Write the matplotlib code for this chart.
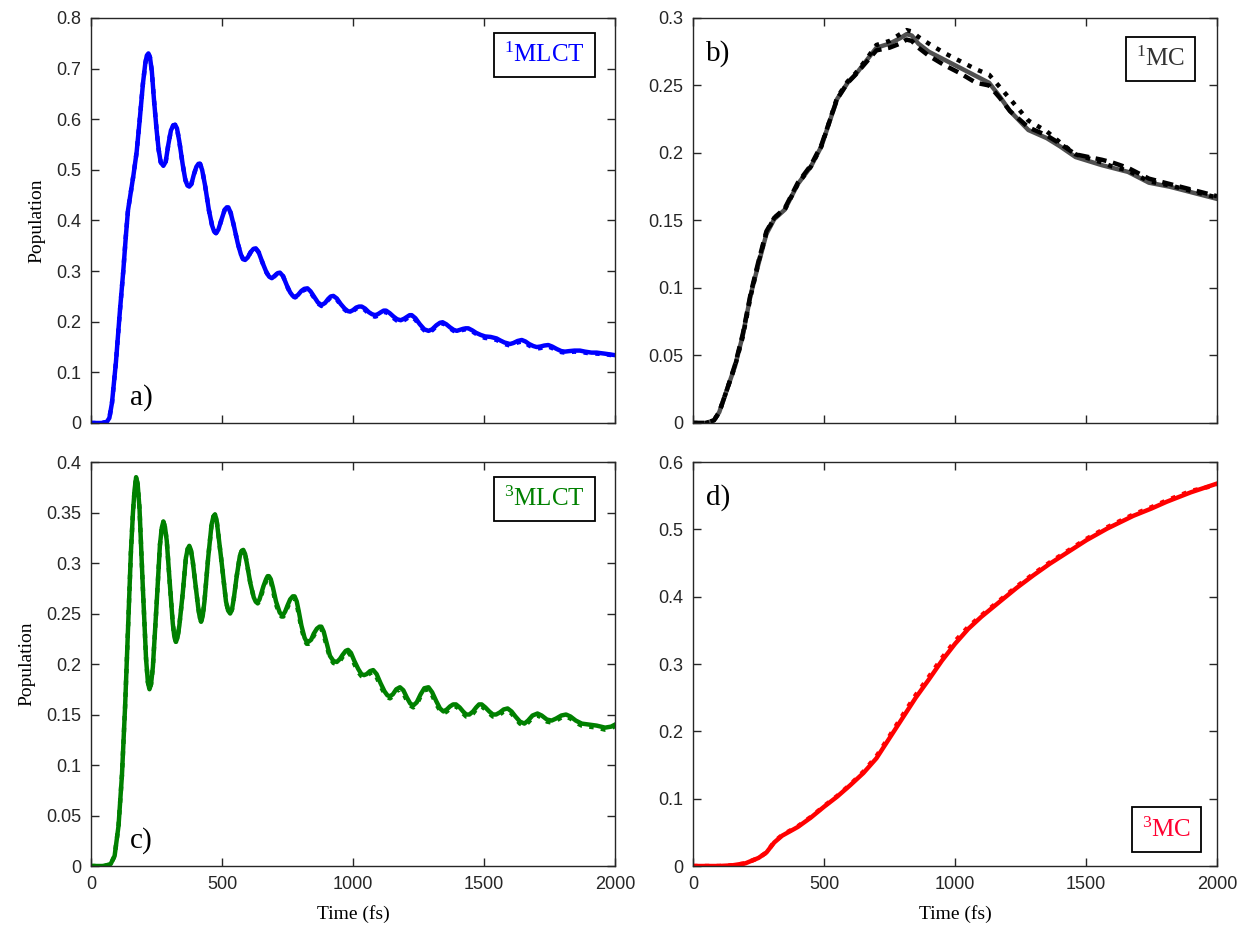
import numpy as np
import matplotlib
matplotlib.use('Agg')
from matplotlib import pyplot as plt
from matplotlib.ticker import FuncFormatter

plt.rcParams['font.family'] = ['Liberation Serif', 'DejaVu Serif']
plt.rcParams['mathtext.fontset'] = 'custom'
plt.rcParams['mathtext.rm'] = 'Liberation Serif'
plt.rcParams['mathtext.default'] = 'regular'

# a) 1MLCT, solid curve (time in fs, population)
t_a = [0, 40, 60, 70, 80, 95, 110, 123, 133, 141, 149, 162, 174, 186, 198, 207, 213, 219, 225, 232, 240,
       250, 258, 266, 276, 285, 295, 305, 314, 321, 328, 337, 350, 360, 368, 375, 383, 392, 402, 410, 416,
       424, 435, 450, 462, 470, 477, 486, 498, 510, 518, 524, 533, 545, 560, 572, 580, 588, 598, 610, 620,
       629, 640, 655, 670, 680, 690, 700, 712, 721, 733, 748, 760, 770, 779, 790, 803, 814, 826, 838, 852,
       866, 880, 893, 905, 915, 925, 938, 953, 968, 980, 989, 1000, 1012, 1023, 1033, 1046, 1060, 1072, 1084,
       1095, 1107, 1117, 1126, 1140, 1155, 1168, 1182, 1195, 1207, 1216, 1224, 1238, 1255, 1272, 1288, 1302,
       1318, 1332, 1342, 1356, 1370, 1384, 1396, 1408, 1420, 1430, 1440, 1455, 1470, 1487, 1504, 1525, 1548,
       1562, 1578, 1599, 1612, 1628, 1644, 1658, 1672, 1688, 1701, 1715, 1730, 1745, 1760, 1778, 1795, 1809,
       1825, 1845, 1866, 1885, 1910, 1930, 1960, 1985, 2000]
p_a = [0, 0, 0.002, 0.01, 0.04, 0.12, 0.22, 0.30, 0.37, 0.42, 0.447, 0.49, 0.535, 0.60, 0.67, 0.71, 0.726,
       0.73, 0.722, 0.695, 0.64, 0.58, 0.54, 0.515, 0.508, 0.516, 0.55, 0.578, 0.588, 0.589, 0.582, 0.556,
       0.51, 0.48, 0.469, 0.467, 0.472, 0.49, 0.506, 0.512, 0.512, 0.5, 0.47, 0.42, 0.39, 0.378, 0.375, 0.382,
       0.402, 0.421, 0.426, 0.426, 0.415, 0.39, 0.355, 0.333, 0.324, 0.322, 0.327, 0.338, 0.344, 0.345, 0.337,
       0.316, 0.297, 0.289, 0.286, 0.29, 0.296, 0.297, 0.29, 0.271, 0.258, 0.251, 0.249, 0.253, 0.261, 0.265,
       0.266, 0.26, 0.249, 0.238, 0.233, 0.237, 0.245, 0.25, 0.251, 0.246, 0.235, 0.226, 0.221, 0.220, 0.223,
       0.228, 0.23, 0.230, 0.226, 0.219, 0.215, 0.213, 0.215, 0.219, 0.222, 0.222, 0.217, 0.21, 0.205, 0.203,
       0.206, 0.21, 0.213, 0.213, 0.207, 0.195, 0.185, 0.182, 0.185, 0.193, 0.198, 0.199, 0.195, 0.189, 0.184,
       0.182, 0.184, 0.186, 0.187, 0.187, 0.183, 0.178, 0.174, 0.171, 0.17, 0.167, 0.163, 0.159, 0.156, 0.158,
       0.162, 0.164, 0.161, 0.156, 0.152, 0.150, 0.151, 0.153, 0.154, 0.151, 0.146, 0.142, 0.141, 0.142,
       0.143, 0.143, 0.141, 0.139, 0.139, 0.137, 0.135, 0.134]
# a) dotted curve: same as solid before 721 fs, then this tail (same time grid)
a_dot_from = 721
p_a_dot_tail = [0.297, 0.29, 0.270, 0.257, 0.250, 0.248, 0.252, 0.259, 0.263, 0.264, 0.258, 0.247, 0.236,
                0.231, 0.235, 0.243, 0.248, 0.249, 0.244, 0.233, 0.224, 0.219, 0.218, 0.221, 0.226, 0.228,
                0.228, 0.223, 0.216, 0.212, 0.210, 0.212, 0.216, 0.219, 0.219, 0.214, 0.207, 0.202, 0.200,
                0.203, 0.207, 0.210, 0.210, 0.204, 0.192, 0.183, 0.180, 0.183, 0.191, 0.196, 0.197, 0.193,
                0.187, 0.182, 0.180, 0.182, 0.184, 0.185, 0.185, 0.181, 0.176, 0.171, 0.168, 0.167, 0.164,
                0.160, 0.156, 0.153, 0.155, 0.159, 0.161, 0.158, 0.153, 0.149, 0.147, 0.148, 0.150, 0.151,
                0.148, 0.143, 0.140, 0.139, 0.140, 0.141, 0.140, 0.139, 0.137, 0.137, 0.136, 0.134, 0.133]

# b) 1MC, three curves
t_b = [0, 50, 80, 100, 130, 160, 190, 220, 250, 280, 310, 350, 400, 450, 490, 550, 590, 620, 660, 700, 750,
       790, 815, 835, 860, 900, 960, 1020, 1080, 1130, 1170, 1210, 1280, 1350, 1400, 1460, 1510, 1560, 1600,
       1660, 1740, 1820, 1900, 1960, 2000]
p_b_solid = [0, 0, 0.002, 0.008, 0.025, 0.042, 0.065, 0.095, 0.118, 0.140, 0.151, 0.158, 0.177, 0.19,
             0.205, 0.24, 0.252, 0.258, 0.268, 0.278, 0.281, 0.285, 0.288, 0.287, 0.281, 0.275, 0.269, 0.263,
             0.257, 0.252, 0.242, 0.231, 0.217, 0.211, 0.205, 0.197, 0.194, 0.191, 0.189, 0.186, 0.178,
             0.175, 0.171, 0.168, 0.166]
p_b_dash = [0, 0, 0.002, 0.008, 0.025, 0.043, 0.066, 0.096, 0.120, 0.142, 0.152, 0.159, 0.178, 0.191,
            0.206, 0.24, 0.252, 0.258, 0.267, 0.276, 0.278, 0.281, 0.284, 0.283, 0.278, 0.272, 0.265, 0.259,
            0.252, 0.250, 0.241, 0.231, 0.219, 0.213, 0.207, 0.199, 0.197, 0.195, 0.193, 0.189, 0.181, 0.177,
            0.173, 0.170, 0.168]
p_b_dot = [0, 0, 0.002, 0.008, 0.025, 0.042, 0.064, 0.094, 0.119, 0.141, 0.152, 0.158, 0.177, 0.190,
           0.205, 0.241, 0.253, 0.259, 0.269, 0.280, 0.283, 0.288, 0.291, 0.290, 0.286, 0.281, 0.274, 0.268,
           0.262, 0.258, 0.249, 0.240, 0.224, 0.216, 0.208, 0.199, 0.196, 0.193, 0.190, 0.187, 0.179, 0.176,
           0.172, 0.169, 0.167]

# c) 3MLCT, solid curve
t_c = [0, 50, 75, 90, 105, 118, 130, 142, 152, 160, 166, 172, 178, 185, 197, 210, 217, 223, 229, 236, 250,
       263, 270, 276, 282, 289, 300, 312, 318, 324, 330, 337, 350, 362, 369, 375, 381, 388, 398, 409, 415,
       420, 426, 433, 447, 460, 467, 473, 479, 486, 500, 515, 523, 531, 538, 545, 556, 568, 575, 581, 588,
       596, 608, 621, 628, 636, 643, 650, 658, 668, 674, 679, 686, 694, 706, 720, 727, 734, 741, 750, 760,
       770, 777, 785, 793, 803, 815, 823, 830, 840, 850, 862, 872, 879, 888, 898, 912, 925, 938, 950, 960,
       972, 981, 992, 1005, 1020, 1032, 1042, 1052, 1065, 1077, 1090, 1105, 1120, 1131, 1141, 1152, 1165,
       1179, 1192, 1205, 1218, 1230, 1243, 1258, 1272, 1288, 1302, 1318, 1332, 1345, 1358, 1370, 1382, 1393,
       1407, 1420, 1432, 1444, 1458, 1470, 1481, 1491, 1505, 1520, 1534, 1546, 1560, 1575, 1590, 1605, 1620,
       1637, 1654, 1668, 1685, 1704, 1720, 1740, 1758, 1775, 1795, 1813, 1830, 1850, 1873, 1900, 1930, 1962,
       1985, 2000]
p_c = [0, 0, 0.002, 0.01, 0.04, 0.09, 0.158, 0.24, 0.31, 0.35, 0.372, 0.385, 0.378, 0.354, 0.28, 0.205,
       0.182, 0.175, 0.18, 0.197, 0.258, 0.318, 0.335, 0.341, 0.336, 0.322, 0.282, 0.24, 0.227, 0.222, 0.226,
       0.238, 0.27, 0.305, 0.314, 0.317, 0.313, 0.302, 0.28, 0.256, 0.246, 0.242, 0.247, 0.262, 0.305, 0.338,
       0.346, 0.348, 0.343, 0.328, 0.297, 0.262, 0.253, 0.250, 0.254, 0.265, 0.287, 0.307, 0.312, 0.313,
       0.309, 0.298, 0.28, 0.266, 0.262, 0.261, 0.264, 0.27, 0.277, 0.284, 0.287, 0.287, 0.284, 0.276, 0.262,
       0.251, 0.249, 0.249, 0.252, 0.258, 0.264, 0.267, 0.267, 0.262, 0.252, 0.238, 0.226, 0.222, 0.222,
       0.224, 0.23, 0.235, 0.237, 0.237, 0.232, 0.222, 0.208, 0.203, 0.202, 0.205, 0.209, 0.213, 0.214, 0.211,
       0.203, 0.195, 0.19, 0.189, 0.19, 0.193, 0.194, 0.19, 0.181, 0.173, 0.169, 0.168, 0.17, 0.175, 0.177,
       0.174, 0.167, 0.161, 0.159, 0.162, 0.17, 0.176, 0.177, 0.172, 0.163, 0.156, 0.153, 0.155, 0.158, 0.16,
       0.16, 0.157, 0.153, 0.15, 0.150, 0.153, 0.157, 0.16, 0.160, 0.157, 0.153, 0.15, 0.150, 0.152, 0.155,
       0.156, 0.153, 0.148, 0.143, 0.141, 0.144, 0.149, 0.151, 0.149, 0.145, 0.144, 0.146, 0.149, 0.150,
       0.148, 0.144, 0.141, 0.140, 0.139, 0.137, 0.138, 0.140]
# c) dotted curve: same as solid before 636 fs, then this tail (same time grid)
c_dot_from = 636
p_c_dot_tail = [0.260, 0.262, 0.268, 0.275, 0.282, 0.285, 0.285, 0.282, 0.273, 0.259, 0.249, 0.247, 0.247,
                0.250, 0.256, 0.262, 0.265, 0.265, 0.259, 0.249, 0.235, 0.224, 0.220, 0.220, 0.222, 0.228,
                0.233, 0.235, 0.235, 0.229, 0.219, 0.206, 0.201, 0.200, 0.203, 0.207, 0.211, 0.212, 0.208,
                0.200, 0.192, 0.188, 0.187, 0.188, 0.191, 0.192, 0.187, 0.178, 0.171, 0.167, 0.166, 0.168,
                0.173, 0.175, 0.171, 0.164, 0.159, 0.157, 0.160, 0.168, 0.174, 0.175, 0.169, 0.160, 0.154,
                0.151, 0.153, 0.156, 0.158, 0.158, 0.155, 0.151, 0.148, 0.148, 0.151, 0.155, 0.158, 0.158,
                0.155, 0.151, 0.148, 0.148, 0.150, 0.153, 0.154, 0.151, 0.146, 0.141, 0.139, 0.142, 0.147,
                0.149, 0.147, 0.143, 0.142, 0.144, 0.147, 0.148, 0.146, 0.142, 0.139, 0.138, 0.137, 0.135,
                0.136, 0.139]

# d) 3MC
t_d = [0, 100, 150, 200, 250, 280, 310, 340, 400, 450, 500, 550, 600, 650, 700, 750, 800, 850, 900, 950,
       1000, 1050, 1100, 1172, 1235, 1300, 1362, 1430, 1502, 1580, 1680, 1750, 1808, 1900, 2000]
p_d = [0, 0, 0.001, 0.004, 0.012, 0.02, 0.035, 0.045, 0.058, 0.072, 0.088, 0.103, 0.12, 0.138, 0.16, 0.19,
       0.22, 0.25, 0.277, 0.305, 0.33, 0.352, 0.37, 0.393, 0.413, 0.432, 0.449, 0.466, 0.484, 0.501, 0.52,
       0.531, 0.541, 0.555, 0.568]
p_d_dot = [0, 0, 0.001, 0.004, 0.012, 0.02, 0.036, 0.046, 0.059, 0.073, 0.089, 0.104, 0.121, 0.140, 0.163,
           0.193, 0.224, 0.254, 0.281, 0.309, 0.334, 0.355, 0.372, 0.395, 0.415, 0.434, 0.451, 0.468, 0.486,
           0.503, 0.522, 0.533, 0.543, 0.557, 0.566]

# dotted curves on the same grid as the solid ones
i = t_a.index(a_dot_from)
p_a_dot = p_a[:i] + p_a_dot_tail
i = t_c.index(c_dot_from)
p_c_dot = p_c[:i] + p_c_dot_tail

blue = '#0000ff'
green = '#008000'
red = '#ff0000'
ax_col = '#262626'

fig = plt.figure(figsize=(12.42, 9.27), dpi=100)
pos = {'a': [0.0733, 0.5437, 0.4219, 0.4369],
       'b': [0.558, 0.5437, 0.4219, 0.4369],
       'c': [0.0733, 0.0658, 0.4219, 0.4358],
       'd': [0.558, 0.0658, 0.4219, 0.4358]}
axes = {k: fig.add_axes(v) for k, v in pos.items()}

lw = 3.2
axes['a'].plot(t_a, p_a, color=blue, lw=lw)
axes['a'].plot(t_a[:len(p_a_dot)], p_a_dot, color=blue, lw=lw, ls=':')
axes['b'].plot(t_b, p_b_solid, color='#505050', lw=lw)
axes['b'].plot(t_b, p_b_dash, color='black', lw=lw, ls='--', dashes=(2.5, 1.5))
axes['b'].plot(t_b, p_b_dot, color='black', lw=lw, ls=':')
axes['c'].plot(t_c, p_c, color=green, lw=lw)
axes['c'].plot(t_c[:len(p_c_dot)], p_c_dot, color=green, lw=lw, ls=':')
axes['d'].plot(t_d, p_d, color=red, lw=lw)
axes['d'].plot(t_d, p_d_dot, color=red, lw=lw, ls=':')

ylims = {'a': (0.8, 0.1), 'b': (0.3, 0.05), 'c': (0.4, 0.05), 'd': (0.6, 0.1)}
fmt = FuncFormatter(lambda v, p: '%g' % round(v, 3))
for k, ax in axes.items():
    top, step = ylims[k]
    ax.set_xlim(0, 2000)
    ax.set_ylim(0, top)
    ax.set_xticks(np.arange(0, 2001, 500))
    ax.set_yticks(np.arange(0, top + step / 2, step))
    ax.yaxis.set_major_formatter(fmt)
    ax.tick_params(direction='in', top=True, right=True, length=6, width=1, colors=ax_col,
                   labelsize=13, pad=7)
    for lab in ax.get_xticklabels() + ax.get_yticklabels():
        lab.set_fontfamily('Liberation Sans')
    for s in ax.spines.values():
        s.set_color(ax_col)
        s.set_linewidth(1)
    if k in ('a', 'b'):
        ax.tick_params(labelbottom=False)
    else:
        ax.set_xlabel('Time (fs)', fontsize=14, labelpad=9)
    if k in ('a', 'c'):
        ax.set_ylabel('Population', fontsize=14, labelpad=8)

box = dict(boxstyle='square,pad=0.4', fc='white', ec='black', lw=1.3)
axes['a'].text(0.943, 0.938, '$^1$MLCT', transform=axes['a'].transAxes, ha='right', va='top',
               fontsize=18, color=blue, bbox=box)
axes['b'].text(0.939, 0.928, '$^1$MC', transform=axes['b'].transAxes, ha='right', va='top',
               fontsize=18, color='#333333', bbox=box)
axes['c'].text(0.943, 0.938, '$^3$MLCT', transform=axes['c'].transAxes, ha='right', va='top',
               fontsize=18, color=green, bbox=box)
axes['d'].text(0.950, 0.06, '$^3$MC', transform=axes['d'].transAxes, ha='right', va='bottom',
               fontsize=18, color='#ff0030', bbox=box)

axes['a'].text(0.075, 0.045, 'a)', transform=axes['a'].transAxes, fontsize=21)
axes['b'].text(0.025, 0.895, 'b)', transform=axes['b'].transAxes, fontsize=21)
axes['c'].text(0.075, 0.045, 'c)', transform=axes['c'].transAxes, fontsize=21)
axes['d'].text(0.025, 0.895, 'd)', transform=axes['d'].transAxes, fontsize=21)

fig.savefig('out.png', dpi=100)
plt.close(fig)
